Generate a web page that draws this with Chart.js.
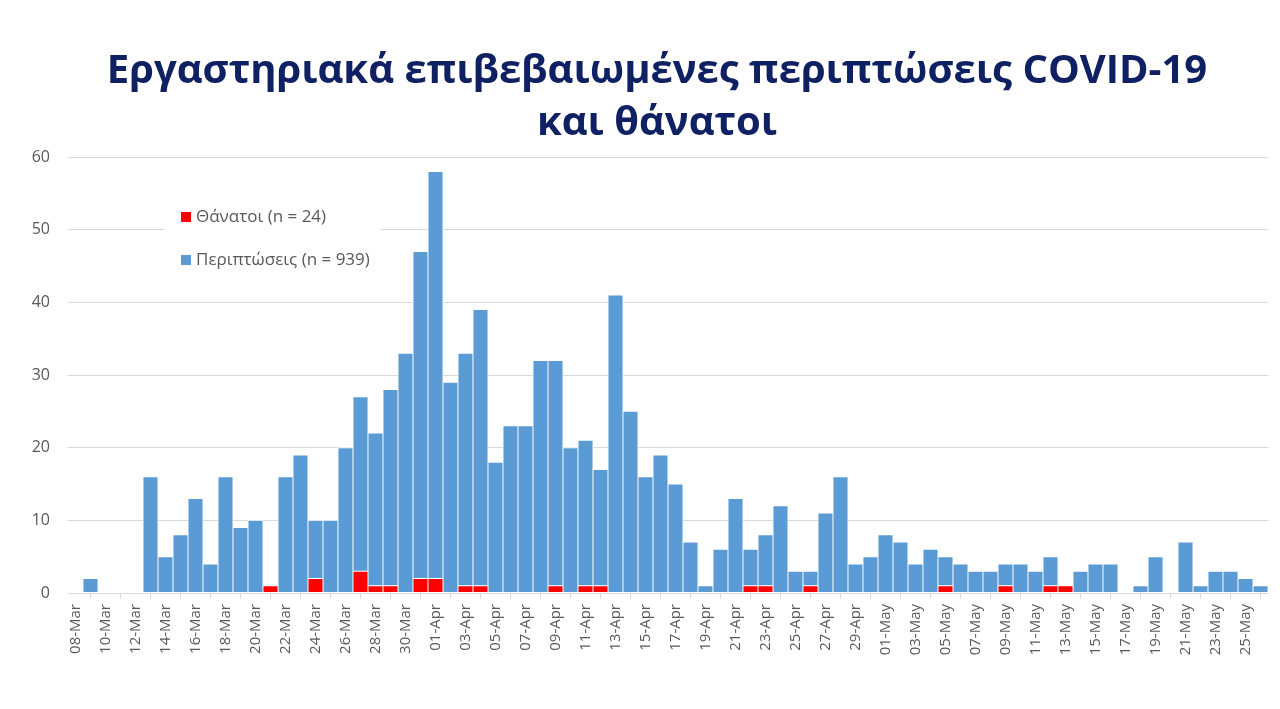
<!DOCTYPE html>
<html>
<head>
<meta charset="utf-8">
<script src="https://cdn.jsdelivr.net/npm/chart.js@4.4.1/dist/chart.umd.min.js"></script>
<style>
  html, body { margin: 0; padding: 0; background: #fff; }
  #wrap { position: relative; width: 1280px; height: 709px; }
  #titulo {
    position: absolute; left: 0; top: 42px; width: 1280px; box-sizing: border-box;
    padding-left: 34px; text-align: center;
    font-family: 'Open Sans', sans-serif; font-weight: bold; font-size: 40px; line-height: 52px;
    color: #0f2163;
  }
</style>
</head>
<body>
<div id="wrap">
  <canvas id="grafico"></canvas>
  <div id="titulo"></div>
</div>
<script>
// Datos (08-Mar a 26-May)
const dates = [
  '08-Mar','09-Mar','10-Mar','11-Mar','12-Mar','13-Mar','14-Mar','15-Mar','16-Mar','17-Mar',
  '18-Mar','19-Mar','20-Mar','21-Mar','22-Mar','23-Mar','24-Mar','25-Mar','26-Mar','27-Mar',
  '28-Mar','29-Mar','30-Mar','31-Mar','01-Apr','02-Apr','03-Apr','04-Apr','05-Apr','06-Apr',
  '07-Apr','08-Apr','09-Apr','10-Apr','11-Apr','12-Apr','13-Apr','14-Apr','15-Apr','16-Apr',
  '17-Apr','18-Apr','19-Apr','20-Apr','21-Apr','22-Apr','23-Apr','24-Apr','25-Apr','26-Apr',
  '27-Apr','28-Apr','29-Apr','30-Apr','01-May','02-May','03-May','04-May','05-May','06-May',
  '07-May','08-May','09-May','10-May','11-May','12-May','13-May','14-May','15-May','16-May',
  '17-May','18-May','19-May','20-May','21-May','22-May','23-May','24-May','25-May','26-May'
];

const deaths = [
  0,0,0,0,0,0,0,0,0,0,
  0,0,0,1,0,0,2,0,0,3,
  1,1,0,2,2,0,1,1,0,0,
  0,0,1,0,1,1,0,0,0,0,
  0,0,0,0,0,1,1,0,0,1,
  0,0,0,0,0,0,0,0,1,0,
  0,0,1,0,0,1,1,0,0,0,
  0,0,0,0,0,0,0,0,0,0
];

const cases = [
  0,2,0,0,0,16,5,8,13,4,
  16,9,10,0,16,19,8,10,20,24,
  21,27,33,45,56,29,32,38,18,23,
  23,32,31,20,20,16,41,25,16,19,
  15,7,1,6,13,5,7,12,3,2,
  11,16,4,5,8,7,4,6,4,4,
  3,3,3,4,3,4,0,3,4,4,
  0,1,5,0,7,1,3,3,2,1
];

const yMax = 60;
const yStep = 10;

const titleLines = ['Εργαστηριακά επιβεβαιωμένες περιπτώσεις COVID-19', 'και θάνατοι'];
const seriesLabels = ['Θάνατοι (n = 24)', 'Περιπτώσεις (n = 939)'];

const grisTexto = '#595959';
const grisLinea = '#d9d9d9';

document.getElementById('titulo').innerHTML = titleLines.join('<br>');

// Leyenda dibujada dentro del área del gráfico, con fondo blanco
const leyendaInterna = {
  id: 'leyendaInterna',
  afterDatasetsDraw(chart) {
    const ctx = chart.ctx;
    const area = chart.chartArea;
    const x0 = area.left + 97;
    const y0 = area.top + 38;
    ctx.save();
    ctx.fillStyle = '#fff';
    ctx.fillRect(x0, y0, 216, 86);
    ctx.font = '17px "Open Sans"';
    ctx.textBaseline = 'middle';
    chart.data.datasets.forEach((ds, i) => {
      const cy = y0 + 22 + i * 43;
      ctx.fillStyle = ds.backgroundColor;
      ctx.fillRect(x0 + 16, cy - 5, 10, 10);
      ctx.fillStyle = grisTexto;
      ctx.fillText(ds.label, x0 + 31, cy);
    });
    ctx.restore();
  }
};

const ctx = document.getElementById('grafico').getContext('2d');
new Chart(ctx, {
  type: 'bar',
  data: {
    labels: dates,
    datasets: [
      {
        label: seriesLabels[0],
        data: deaths,
        backgroundColor: '#ff0000',
        borderColor: '#ffffff',
        borderWidth: 0.8,
        borderSkipped: false
      },
      {
        label: seriesLabels[1],
        data: cases,
        backgroundColor: '#5b9bd5',
        borderColor: '#ffffff',
        borderWidth: 0.8,
        borderSkipped: false
      }
    ]
  },
  options: {
    responsive: true,
    maintainAspectRatio: false,
    animation: false,
    datasets: { bar: { barPercentage: 1, categoryPercentage: 1 } },
    layout: { padding: { left: 0, right: 12, top: 157, bottom: 0 } },
    plugins: {
      legend: { display: false },
      tooltip: { enabled: false },
      title: { display: false }
    },
    scales: {
      x: {
        stacked: true,
        border: { display: true, color: grisLinea, width: 1 },
        grid: {
          offset: true,
          drawOnChartArea: false,
          drawTicks: true,
          tickLength: 6,
          color: grisLinea
        },
        ticks: {
          autoSkip: false,
          minRotation: 90,
          maxRotation: 90,
          color: grisTexto,
          font: { family: 'Open Sans', size: 15 },
          padding: 5,
          callback: function (val, idx) {
            return idx % 2 === 0 ? this.getLabelForValue(val) : null;
          }
        },
        afterFit(scale) { scale.height = 116; }
      },
      y: {
        stacked: true,
        min: 0,
        max: yMax,
        border: { display: false },
        grid: { color: grisLinea, drawTicks: false, lineWidth: 1 },
        ticks: {
          stepSize: yStep,
          color: grisTexto,
          font: { family: 'Open Sans', size: 16 },
          padding: 18
        },
        afterFit(scale) { scale.width = 68; }
      }
    }
  },
  plugins: [leyendaInterna]
});
</script>
</body>
</html>
